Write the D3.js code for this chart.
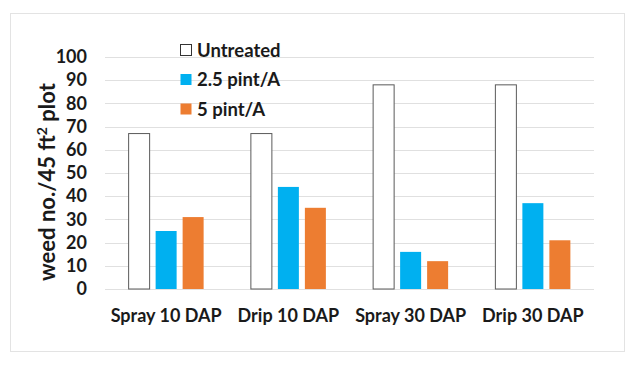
<!DOCTYPE html>
<html>
<head>
<meta charset="utf-8">
<script src="https://cdn.jsdelivr.net/npm/d3@7"></script>
<style>
  body { margin: 0; background: #fff; }
  text { font-family: Lato, "Open Sans", sans-serif; font-weight: bold; fill: #1a1a1a; }
</style>
</head>
<body>
<svg id="chart"></svg>
<script>
const categories = ["Spray 10 DAP", "Drip 10 DAP", "Spray 30 DAP", "Drip 30 DAP"];
const seriesNames = ["Untreated", "2.5 pint/A", "5 pint/A"];
const untreated = [67, 67, 88, 88];
const pint25 = [25, 44, 16, 37];
const pint5 = [31, 35, 12, 21];
const yTicks = [0, 10, 20, 30, 40, 50, 60, 70, 80, 90, 100];

const width = 640, height = 369;
const colors = ["#ffffff", "#00b0f0", "#ed7d31"];
const series = [untreated, pint25, pint5];

const svg = d3.select("#chart").attr("width", width).attr("height", height);

// outer frame
svg.append("rect")
    .attr("x", 10.5).attr("y", 13.5)
    .attr("width", 614).attr("height", 338)
    .attr("fill", "#fff")
    .attr("stroke", "#e3e3e3");

const x = d3.scaleBand().domain(categories).range([105, 594]);
const y = d3.scaleLinear().domain([0, 100]).range([289, 57]);

const barW = 21, gap = 6;
const groupW = barW * 3 + gap * 2;

// gridlines
svg.append("g")
    .selectAll("line")
    .data(yTicks)
    .join("line")
    .attr("x1", 105).attr("x2", 594)
    .attr("y1", d => Math.round(y(d)) + 0.5)
    .attr("y2", d => Math.round(y(d)) + 0.5)
    .attr("stroke", "#e0e0e0")
    .attr("stroke-width", 1);

// y axis tick labels
const yAxis = svg.append("g")
    .attr("transform", "translate(96,0)")
    .call(d3.axisLeft(y).tickValues(yTicks).tickSize(0).tickPadding(9));
yAxis.select(".domain").remove();
yAxis.selectAll("text")
    .attr("font-family", "Lato, sans-serif")
    .attr("font-size", 18)
    .attr("font-weight", "bold")
    .attr("fill", "#1a1a1a");

// bars
series.forEach((vals, si) => {
    svg.append("g")
        .selectAll("rect")
        .data(vals)
        .join("rect")
        .attr("x", (d, i) => x(categories[i]) + (x.bandwidth() - groupW) / 2 + si * (barW + gap))
        .attr("y", d => y(d))
        .attr("width", barW)
        .attr("height", d => y(0) - y(d))
        .attr("fill", colors[si])
        .attr("stroke", si === 0 ? "#5a5a5a" : "none")
        .attr("stroke-width", 1);
});

// x axis labels
const xAxis = svg.append("g")
    .attr("transform", "translate(0,289)")
    .call(d3.axisBottom(x).tickSize(0).tickPadding(20));
xAxis.select(".domain").remove();
xAxis.selectAll("text")
    .attr("font-family", "Lato, sans-serif")
    .attr("font-size", 18)
    .attr("font-weight", "bold")
    .attr("fill", "#1a1a1a");

// y axis title
const yTitle = svg.append("text")
    .attr("transform", "translate(55,182) rotate(-90)")
    .attr("text-anchor", "middle")
    .attr("font-size", 22);
yTitle.append("tspan").text("weed no./45 ft");
yTitle.append("tspan").attr("font-size", 14).attr("dy", -8).text("2");
yTitle.append("tspan").attr("dy", 8).text(" plot");

// legend
const legend = svg.append("g")
    .selectAll("g")
    .data(seriesNames)
    .join("g")
    .attr("transform", (d, i) => `translate(180,${50 + i * 29.5})`);
legend.append("rect")
    .attr("x", 0.5).attr("y", -5.5)
    .attr("width", 11).attr("height", 11)
    .attr("fill", (d, i) => colors[i])
    .attr("stroke", (d, i) => i === 0 ? "#333" : "none");
legend.append("text")
    .attr("x", 17).attr("y", 6.5)
    .attr("font-size", 18.5)
    .text(d => d);
</script>
</body>
</html>
